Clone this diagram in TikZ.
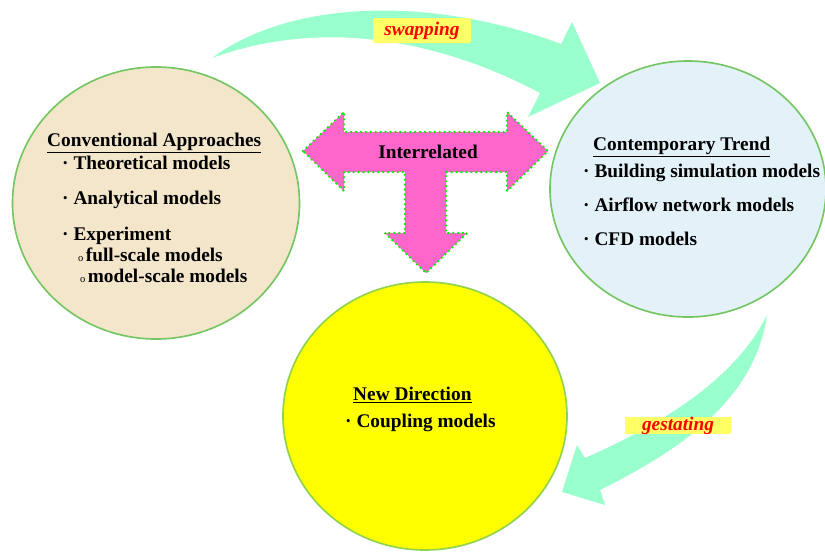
\documentclass[tikz,border=0pt]{standalone}
\usepackage{fontspec}
\setmainfont{Liberation Serif}
\usetikzlibrary{shapes.geometric}
\definecolor{ringgreen}{HTML}{74C662}
\definecolor{beige}{HTML}{F4E6CB}
\definecolor{paleblue}{HTML}{E3F1F8}
\definecolor{sunyellow}{HTML}{FFFF00}
\definecolor{mint}{HTML}{99FFCC}
\definecolor{tpink}{HTML}{FF66CC}
\definecolor{dotgreen}{HTML}{00EE00}
\definecolor{tagyellow}{HTML}{FFFF66}
\newcommand{\subo}{{\fontsize{9}{9}\selectfont\mdseries o}\kern2pt}

\begin{document}
\begin{tikzpicture}[
    x=0.03cm, y=-0.03cm,
    blob/.style={ellipse, draw=ringgreen, line width=1.4pt, inner sep=0pt},
    txt/.style={anchor=base west, inner sep=0pt,
                font=\fontsize{16.5}{19}\selectfont\bfseries},
    tag/.style={inner sep=0pt, fill=tagyellow, text=red,
                font=\fontsize{16.5}{19}\selectfont\bfseries\itshape},
    bigarrow/.style={fill=mint, draw=none}
  ]
  \useasboundingbox (0,0) rectangle (825,552);

  % ---- Curved block arrows ----
  \path[bigarrow] (212,58) .. controls (290,0) and (430,-5) .. (561,44)
    -- (572,22) -- (600,83) -- (528,117) -- (540,93)
    .. controls (450,45) and (330,15) .. cycle;
  \path[bigarrow] (767,315) .. controls (755,400) and (680,450) .. (600,490)
    -- (605,505) -- (562,492) -- (577,445) -- (585,458)
    .. controls (660,425) and (735,380) .. cycle;

  % ---- Three circles ----
  \node[blob, fill=beige, minimum width=8.61cm, minimum height=8.16cm]
    (conv) at (156,203) {};
  \node[blob, fill=paleblue, minimum width=8.28cm, minimum height=7.68cm]
    (cont) at (688,189) {};
  \node[blob, fill=sunyellow, draw=ringgreen!80!yellow,
        minimum width=8.52cm, minimum height=8.04cm]
    (newdir) at (425,416) {};

  % ---- Conventional approaches ----
  \node[txt] (convt) at (47,146) {\underline{Conventional Approaches}};
  \node[txt] (conv1) at (62,169) {· Theoretical models};
  \node[txt] (conv2) at (62,204) {· Analytical models};
  \node[txt] (conv3) at (62,240) {· Experiment};
  \node[txt] (conv4) at (78,261) {\subo full-scale models};
  \node[txt] (conv5) at (80,282) {\subo model-scale models};

  % ---- Contemporary trend ----
  \node[txt] (contt) at (593,150) {\underline{Contemporary Trend}};
  \node[txt] (cont1) at (583,177) {· Building simulation models};
  \node[txt] (cont2) at (583,211) {· Airflow network models};
  \node[txt] (cont3) at (583,245) {· CFD models};

  % ---- New direction ----
  \node[txt] (newt) at (353,400) {\underline{New Direction}};
  \node[txt] (new1) at (345,427) {· Coupling models};

  % ---- Interrelated T arrow ----
  \filldraw[fill=tpink, draw=dotgreen, line width=2.2pt, line cap=round,
            line join=round, dash pattern=on 0pt off 4.2pt]
    (303,151) -- (344,112) -- (344,132) -- (507,132) -- (507,112)
    -- (548,151) -- (507,191) -- (507,172) -- (446,172) -- (446,233)
    -- (467,233) -- (426,273) -- (385,233) -- (405,233) -- (405,172)
    -- (344,172) -- (344,191) -- cycle;
  \node[txt, anchor=base] (inter) at (428,158) {Interrelated};

  % ---- Labels on arrows ----
  \node[tag, rounded corners=2pt, minimum width=2.94cm, minimum height=0.75cm]
    (swap) at (422,30.5) {swapping};
  \node[tag, minimum width=3.18cm, minimum height=0.51cm]
    (gest) at (678,425.5) {gestating};

\end{tikzpicture}
\end{document}
